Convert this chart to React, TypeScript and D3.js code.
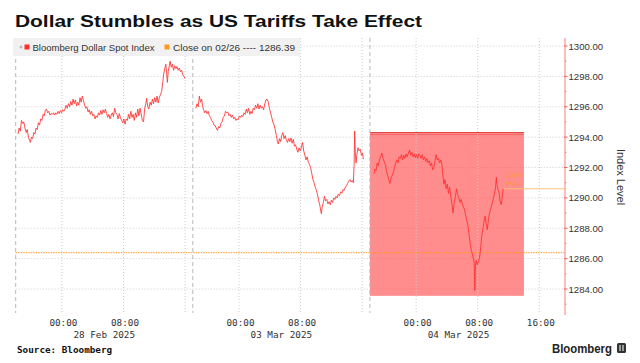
import React from 'react';
import * as d3 from 'd3';

const W = 640;
const H = 363;

// [hour relative to midnight of the session date, index level]
const feb28: [number, number][] = [
  [-5.7, 1294.2], [-5.55, 1294.6], [-5.4, 1294.4], [-5.25, 1295.1], [-5.1, 1294.9], [-4.95, 1295.0],
  [-4.8, 1294.6], [-4.65, 1294.3], [-4.5, 1294.5], [-4.35, 1294.0], [-4.2, 1293.8], [-4.1, 1293.65],
  [-3.95, 1294.0], [-3.8, 1293.9], [-3.65, 1294.3], [-3.5, 1294.2], [-3.35, 1294.6], [-3.2, 1294.5],
  [-3.05, 1294.95], [-2.9, 1294.8], [-2.75, 1295.2], [-2.6, 1295.1], [-2.45, 1295.5], [-2.3, 1295.4],
  [-2.15, 1295.75], [-2.0, 1295.85], [-1.85, 1295.6], [-1.7, 1295.7], [-1.55, 1295.45], [-1.4, 1295.55],
  [-1.25, 1295.5], [-1.1, 1295.6], [-0.95, 1295.45], [-0.8, 1295.6], [-0.65, 1295.5], [-0.5, 1295.7],
  [-0.35, 1295.55], [-0.2, 1295.75], [-0.05, 1295.6], [0.1, 1295.8], [0.25, 1295.7], [0.4, 1295.85],
  [0.55, 1296.1], [0.7, 1295.9], [0.85, 1296.2], [1.0, 1296.0], [1.15, 1296.35], [1.3, 1296.1],
  [1.45, 1296.5], [1.6, 1296.2], [1.75, 1296.45], [1.9, 1296.05], [2.05, 1296.3], [2.2, 1296.1],
  [2.35, 1296.6], [2.5, 1296.3], [2.65, 1296.7], [2.8, 1296.4], [2.95, 1296.1], [3.1, 1295.9],
  [3.25, 1296.0], [3.4, 1295.65], [3.55, 1295.8], [3.7, 1295.5], [3.85, 1295.7], [4.0, 1295.4],
  [4.15, 1295.5], [4.3, 1295.2], [4.45, 1295.4], [4.6, 1295.3], [4.75, 1295.6], [4.9, 1295.45],
  [5.05, 1295.75], [5.2, 1295.5], [5.35, 1295.8], [5.5, 1295.6], [5.65, 1295.85], [5.8, 1295.55],
  [5.95, 1295.3], [6.1, 1295.5], [6.25, 1295.2], [6.4, 1295.45], [6.55, 1295.6], [6.7, 1295.35],
  [6.85, 1295.9], [7.0, 1295.6], [7.15, 1295.5], [7.3, 1295.2], [7.45, 1295.55], [7.6, 1295.3],
  [7.75, 1295.1], [7.9, 1294.95], [8.05, 1295.2], [8.2, 1294.85], [8.35, 1295.2], [8.5, 1295.1],
  [8.65, 1295.5], [8.8, 1295.2], [8.95, 1295.7], [9.1, 1295.3], [9.25, 1295.5], [9.4, 1295.1],
  [9.55, 1295.6], [9.7, 1295.3], [9.85, 1295.85], [10.0, 1295.4], [10.15, 1295.9], [10.3, 1295.5],
  [10.45, 1295.1], [10.6, 1295.0], [10.75, 1295.9], [10.9, 1296.2], [11.0, 1296.55], [11.15, 1296.0],
  [11.3, 1295.85], [11.45, 1296.3], [11.6, 1296.1], [11.75, 1296.5], [11.9, 1296.2], [12.05, 1296.6],
  [12.2, 1296.3], [12.35, 1296.7], [12.5, 1296.25], [12.65, 1296.6], [12.8, 1296.8], [12.95, 1297.0],
  [13.1, 1297.6], [13.2, 1298.1], [13.35, 1298.5], [13.5, 1298.8], [13.6, 1298.2], [13.7, 1297.6],
  [13.8, 1298.3], [13.95, 1298.7], [14.05, 1299.0], [14.2, 1298.6], [14.35, 1298.8], [14.5, 1298.4],
  [14.65, 1298.7], [14.8, 1298.5], [14.95, 1298.65], [15.1, 1298.4], [15.25, 1298.55], [15.4, 1298.3],
  [15.55, 1298.4], [15.7, 1298.1], [15.85, 1298.0], [16.0, 1297.85],
];

const mar03: [number, number][] = [
  [-5.6, 1295.9], [-5.45, 1296.2], [-5.3, 1296.0], [-5.15, 1296.7], [-5.0, 1296.3], [-4.85, 1296.5],
  [-4.75, 1296.1], [-4.6, 1295.8], [-4.45, 1295.6], [-4.3, 1295.75], [-4.15, 1295.55], [-4.0, 1295.7],
  [-3.85, 1295.4], [-3.7, 1295.3], [-3.55, 1295.1], [-3.4, 1295.0], [-3.25, 1294.8], [-3.1, 1294.75],
  [-2.95, 1294.6], [-2.8, 1294.45], [-2.65, 1294.7], [-2.5, 1294.6], [-2.35, 1294.9], [-2.2, 1295.0],
  [-2.05, 1295.3], [-1.9, 1295.4], [-1.75, 1295.7], [-1.6, 1295.6], [-1.45, 1295.65], [-1.3, 1295.4],
  [-1.15, 1295.5], [-1.0, 1295.3], [-0.85, 1295.45], [-0.7, 1295.2], [-0.55, 1295.3], [-0.4, 1295.1],
  [-0.25, 1295.2], [-0.1, 1295.15], [0.05, 1295.4], [0.2, 1295.3], [0.35, 1295.45], [0.5, 1295.35],
  [0.65, 1295.6], [0.8, 1295.5], [0.95, 1295.85], [1.1, 1295.6], [1.25, 1295.9], [1.4, 1295.5],
  [1.55, 1295.7], [1.7, 1295.55], [1.85, 1295.9], [2.0, 1295.8], [2.15, 1296.1], [2.3, 1295.9],
  [2.45, 1296.2], [2.6, 1295.85], [2.75, 1296.1], [2.9, 1295.9], [3.05, 1296.0], [3.2, 1295.8],
  [3.35, 1296.2], [3.5, 1296.45], [3.65, 1296.5], [3.8, 1296.3], [3.95, 1295.9], [4.1, 1295.6],
  [4.25, 1295.3], [4.4, 1295.0], [4.55, 1294.8], [4.7, 1294.5], [4.85, 1294.1], [5.0, 1293.7],
  [5.1, 1293.55], [5.25, 1293.9], [5.4, 1293.7], [5.55, 1294.1], [5.7, 1294.3], [5.85, 1293.9],
  [6.0, 1294.1], [6.15, 1293.8], [6.3, 1293.65], [6.45, 1293.9], [6.6, 1293.7], [6.75, 1293.95],
  [6.9, 1293.6], [7.05, 1293.85], [7.2, 1293.4], [7.35, 1293.5], [7.5, 1293.2], [7.65, 1293.0],
  [7.8, 1293.3], [7.95, 1293.1], [8.1, 1293.35], [8.25, 1293.65], [8.4, 1293.1], [8.55, 1292.8],
  [8.7, 1292.5], [8.85, 1292.7], [9.0, 1292.35], [9.15, 1292.2], [9.3, 1292.0], [9.45, 1291.6],
  [9.6, 1291.2], [9.75, 1291.0], [9.9, 1290.7], [10.05, 1290.5], [10.2, 1290.2], [10.35, 1289.8],
  [10.5, 1289.5], [10.6, 1289.2], [10.7, 1288.95], [10.8, 1289.4], [10.95, 1289.7], [11.1, 1290.1],
  [11.25, 1289.8], [11.4, 1289.9], [11.55, 1289.6], [11.7, 1289.75], [11.85, 1289.55], [12.0, 1289.85],
  [12.15, 1289.7], [12.3, 1290.0], [12.45, 1289.9], [12.6, 1290.1], [12.75, 1290.0], [12.9, 1290.25],
  [13.05, 1290.15], [13.2, 1290.4], [13.35, 1290.3], [13.5, 1290.55], [13.65, 1290.5], [13.8, 1290.7],
  [13.95, 1290.8], [14.1, 1290.95], [14.25, 1291.1], [14.4, 1291.2], [14.55, 1291.05], [14.7, 1291.15],
  [14.85, 1291.0], [14.95, 1292.2], [15.02, 1294.4], [15.1, 1293.0], [15.2, 1292.3], [15.3, 1292.8],
  [15.45, 1293.3], [15.6, 1293.1], [15.75, 1293.2], [15.9, 1292.8], [16.05, 1292.95], [16.15, 1292.55],
];

const mar04: [number, number][] = [
  [-5.45, 1291.6], [-5.35, 1291.9], [-5.2, 1291.8], [-5.05, 1292.3], [-4.9, 1292.1], [-4.75, 1292.5],
  [-4.6, 1292.7], [-4.45, 1292.95], [-4.3, 1292.6], [-4.15, 1292.4], [-4.0, 1292.2], [-3.85, 1291.8],
  [-3.7, 1291.5], [-3.55, 1291.2], [-3.4, 1290.95], [-3.25, 1291.3], [-3.1, 1291.5], [-2.95, 1291.7],
  [-2.8, 1292.0], [-2.65, 1292.3], [-2.5, 1292.5], [-2.35, 1292.3], [-2.2, 1292.7], [-2.05, 1292.6],
  [-1.9, 1292.85], [-1.75, 1292.5], [-1.6, 1292.8], [-1.45, 1292.6], [-1.3, 1292.9], [-1.15, 1292.7],
  [-1.0, 1292.95], [-0.85, 1293.15], [-0.7, 1292.8], [-0.55, 1293.0], [-0.4, 1292.7], [-0.25, 1292.9],
  [-0.1, 1292.65], [0.05, 1292.85], [0.2, 1292.6], [0.35, 1292.9], [0.5, 1292.8], [0.65, 1292.6],
  [0.8, 1292.85], [0.95, 1292.5], [1.1, 1292.7], [1.25, 1292.4], [1.4, 1292.6], [1.55, 1292.3],
  [1.7, 1292.45], [1.85, 1292.1], [2.0, 1292.3], [2.15, 1291.85], [2.3, 1292.0], [2.45, 1292.4],
  [2.6, 1292.85], [2.75, 1292.5], [2.9, 1292.6], [3.05, 1292.3], [3.2, 1292.5], [3.35, 1292.2],
  [3.45, 1291.6], [3.6, 1290.9], [3.75, 1291.2], [3.9, 1290.6], [4.05, 1290.9], [4.2, 1290.3],
  [4.35, 1290.7], [4.5, 1290.1], [4.65, 1289.6], [4.8, 1289.0], [4.95, 1289.7], [5.1, 1290.1],
  [5.25, 1290.6], [5.4, 1290.2], [5.55, 1290.0], [5.7, 1289.7], [5.85, 1289.9], [6.0, 1289.6],
  [6.15, 1289.4], [6.3, 1289.2], [6.45, 1288.8], [6.6, 1288.5], [6.75, 1288.1], [6.9, 1287.5],
  [7.05, 1286.9], [7.15, 1286.6], [7.3, 1286.3], [7.45, 1286.0], [7.55, 1285.7], [7.62, 1283.9],
  [7.7, 1285.5], [7.8, 1285.9], [7.95, 1285.6], [8.1, 1285.8], [8.25, 1286.1], [8.4, 1286.8],
  [8.5, 1287.4], [8.65, 1287.9], [8.8, 1288.4], [8.95, 1288.8], [9.1, 1288.3], [9.25, 1287.9],
  [9.4, 1288.6], [9.55, 1289.0], [9.7, 1289.3], [9.85, 1289.6], [10.0, 1289.9], [10.15, 1290.2],
  [10.3, 1290.6], [10.42, 1291.35], [10.5, 1290.9], [10.6, 1290.6], [10.75, 1290.4], [10.9, 1289.8],
  [11.05, 1289.55], [11.15, 1289.9], [11.3, 1290.6],
];

const sessionSeries = [feb28, mar03, mar04];
const sessionDates = ['28 Feb 2025', '03 Mar 2025', '04 Mar 2025'];
const gridHours = [0, 8, 16];
const labelledHours = [[0, 8], [0, 8], [0, 8, 16]];
const yTicks = [1284, 1286, 1288, 1290, 1292, 1294, 1296, 1298, 1300];
const yMinorTicks = [1283, 1285, 1287, 1289, 1291, 1293, 1295, 1297, 1299];
const prevClose = 1286.39;
const prevCloseLabel = 'Close on 02/26';
const seriesName = 'Bloomberg Dollar Spot Index';
// shaded box on 04 Mar session: from session open to 14:00
const boxSession = 2;
const boxHours = [-6, 14];
const boxLevels = [1283.55, 1294.3];

const SESSION_LEN = 23; // 18:00 -> 17:00
const OPEN_OFFSET = 6;

const RED = '#ff2e2e';
const ORANGE = '#ff9a1f';
const GRID = '#cdcdcd';
const TEXT = '#333';

const PLOT_TOP = 38;
const PLOT_BOTTOM = 313;
const AXIS_X = 565;

export default function App() {
  const x = d3.scaleLinear().domain([0, 71.4]).range([15.7, AXIS_X + 0.5]);
  const y = d3.scaleLinear().domain([1284, 1300]).range([289, 46]);
  const pos = (s: number, h: number) => x(s * SESSION_LEN + h + OPEN_OFFSET);

  const lines = sessionSeries.map((pts, s) =>
    d3
      .line<[number, number]>()
      .x((d) => pos(s, d[0]))
      .y((d) => y(d[1]))(pts),
  );

  const last = mar04[mar04.length - 1];
  const lastX = pos(2, last[0]);
  const change = last[1] - prevClose;
  const pct = (change / prevClose) * 100;

  const bx0 = pos(boxSession, boxHours[0]);
  const bx1 = pos(boxSession, boxHours[1]);
  const by0 = y(boxLevels[1]);
  const by1 = y(boxLevels[0]);

  return (
    <svg
      width={W}
      height={H}
      viewBox={`0 0 ${W} ${H}`}
      style={{ position: 'absolute', left: 0, top: 0, background: '#fff' }}
      fontFamily="'Liberation Sans', Arial, sans-serif"
    >
      <rect width={W} height={H} fill="#fff" />

      <text x={15} y={27} fontSize={17} fontWeight="bold" fill="#111" textLength={407} lengthAdjust="spacingAndGlyphs">
        Dollar Stumbles as US Tariffs Take Effect
      </text>

      {/* horizontal grid */}
      {yTicks.map((v) => (
        <line key={`hg-${v}`} x1={15.7} x2={AXIS_X} y1={y(v)} y2={y(v)} stroke={GRID} strokeDasharray="1,2" />
      ))}

      {/* shaded box */}
      <rect x={bx0} y={by0} width={bx1 - bx0} height={by1 - by0} fill="#ff5050" fillOpacity={0.65} />
      <line x1={bx0} x2={bx1} y1={by0} y2={by0} stroke="#e23c3c" strokeWidth={1} />
      <line x1={bx0} x2={bx1} y1={by0 + 2} y2={by0 + 2} stroke="#ee5a5a" strokeWidth={0.8} />

      {/* vertical grid + session dividers */}
      {sessionSeries.map((_, s) => (
        <g key={`vg-${s}`}>
          {gridHours.map((h) => (
            <line
              key={h}
              x1={pos(s, h)}
              x2={pos(s, h)}
              y1={PLOT_TOP}
              y2={PLOT_BOTTOM}
              stroke={GRID}
              strokeDasharray="1,2"
            />
          ))}
          <line
            x1={pos(s, -OPEN_OFFSET)}
            x2={pos(s, -OPEN_OFFSET)}
            y1={PLOT_TOP}
            y2={PLOT_BOTTOM}
            stroke="#b8b8b8"
            strokeDasharray="4,3"
          />
        </g>
      ))}

      {/* previous close */}
      <line x1={15.7} x2={AXIS_X} y1={y(prevClose)} y2={y(prevClose)} stroke={ORANGE} strokeDasharray="1.5,1" />

      {/* last value marker */}
      <line x1={lastX} x2={AXIS_X} y1={y(last[1])} y2={y(last[1])} stroke="#ffc27a" />
      <text x={lastX + 2} y={y(last[1]) - 12} fontSize={5.8} fill={ORANGE}>
        {`${pct.toFixed(2)}%`}
      </text>
      <text x={lastX + 2} y={y(last[1]) - 4} fontSize={5.8} fill={ORANGE}>
        {`+${change.toFixed(2)}`}
      </text>

      {/* price */}
      {lines.map((d, i) => (
        <path key={`l-${i}`} d={d || ''} fill="none" stroke={RED} strokeWidth={0.85} strokeLinejoin="round" />
      ))}

      {/* legend */}
      <rect x={13} y={38} width={287} height={18} fill="#f1f1f1" />
      <line x1={19.5} x2={22.5} y1={47} y2={47} stroke="#999" strokeWidth={0.8} />
      <line x1={21} x2={21} y1={45.5} y2={48.5} stroke="#999" strokeWidth={0.8} />
      <rect x={24.5} y={44.5} width={5} height={5} fill={RED} />
      <text x={32.5} y={50.5} fontSize={8.6} fill={TEXT} textLength={122} lengthAdjust="spacingAndGlyphs">
        {seriesName}
      </text>
      <rect x={164.5} y={44.5} width={5} height={5} fill={ORANGE} />
      <text x={173} y={50.5} fontSize={8.6} fill={TEXT} textLength={122} lengthAdjust="spacingAndGlyphs">
        {`${prevCloseLabel} ---- ${prevClose.toFixed(2)}`}
      </text>

      {/* right axis */}
      <line x1={AXIS_X} x2={AXIS_X} y1={PLOT_TOP} y2={315} stroke="#ff7a7a" />
      {yMinorTicks.map((v) => (
        <line key={`mt-${v}`} x1={AXIS_X} x2={AXIS_X + 1.5} y1={y(v)} y2={y(v)} stroke="#ff7a7a" />
      ))}
      {yTicks.map((v) => (
        <g key={`yt-${v}`}>
          <line x1={AXIS_X - 1} x2={AXIS_X + 2.5} y1={y(v)} y2={y(v)} stroke="#ff5a5a" />
          <text x={AXIS_X + 3.5} y={y(v) + 3.5} fontSize={9.6} fill={TEXT}>
            {v.toFixed(2)}
          </text>
        </g>
      ))}
      <text
        transform={`translate(617,177) rotate(90)`}
        textAnchor="middle"
        fontSize={11}
        fill={TEXT}
      >
        Index Level
      </text>

      {/* x axis labels */}
      {sessionDates.map((date, s) => (
        <g key={`xd-${s}`} fontFamily="'DejaVu Sans Mono', monospace" fontSize={9.3} fill={TEXT}>
          {labelledHours[s].map((h) => (
            <text key={h} x={pos(s, h) + 1.5} y={326} textAnchor="middle">
              {`${String(h).padStart(2, '0')}:00`}
            </text>
          ))}
          <text x={pos(s, SESSION_LEN / 2 - OPEN_OFFSET)} y={338} textAnchor="middle">
            {date}
          </text>
        </g>
      ))}

      {/* footer */}
      <text x={17} y={353} fontFamily="'DejaVu Sans Mono', monospace" fontWeight="bold" fontSize={9.3} fill="#111">
        Source: Bloomberg
      </text>
      <text x={552} y={352.5} fontSize={12.5} fontWeight="bold" fill="#222" textLength={60} lengthAdjust="spacingAndGlyphs">
        Bloomberg
      </text>
      <rect x={617} y={343} width={9} height={10} rx={1.5} fill="#333" />
      <line x1={620} x2={620} y1={345} y2={351} stroke="#fff" strokeWidth={1} />
      <line x1={623} x2={623} y1={345} y2={351} stroke="#fff" strokeWidth={1} />
    </svg>
  );
}
